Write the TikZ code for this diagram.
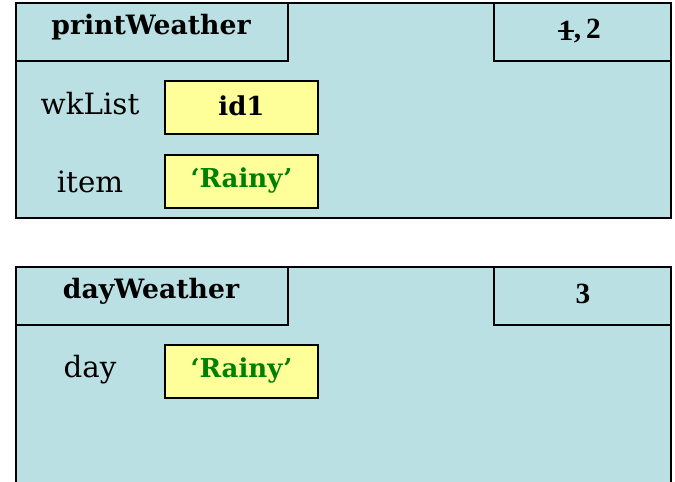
\documentclass[tikz,border=0pt]{standalone}
\usepackage{fontspec}
\setmainfont{DejaVu Serif}
\newfontfamily\numfont{Liberation Serif}
\usepackage{xcolor}
\usetikzlibrary{positioning}
\definecolor{framebg}{HTML}{BBE0E3}
\definecolor{valbg}{HTML}{FFFF99}
\definecolor{strgreen}{HTML}{008000}
\tikzstyle{frame} = [draw=black,line width=1.5pt,fill=framebg]
\tikzstyle{tab} = [draw=black,line width=1.2pt,fill=framebg]
\tikzstyle{valbox} = [draw=black,line width=1pt,fill=valbg]
\tikzstyle{varname} = [font=\fontsize{22}{26}\selectfont]
\tikzstyle{valtext} = [font=\fontsize{19.5}{24}\selectfont\bfseries]
\tikzstyle{fname} = [font=\fontsize{20}{24}\selectfont\bfseries]
\tikzstyle{linenum} = [font=\numfont\fontsize{22}{24}\selectfont\bfseries]

\begin{document}
\begin{tikzpicture}[x=0.75pt,y=-0.75pt]
  \useasboundingbox (0,0) rectangle (675,482);
  % call frame for printWeather
  \draw[frame] (16,3) rectangle (671,218);
  \draw[tab] (16,3) rectangle (288,61);
  \draw[tab] (494,3) rectangle (671,61);
  \node[fname] (fn1) at (151,27) {printWeather};
  \node[linenum,inner sep=0pt] (ln1a) at (566,31) {1};
  \node[linenum,inner sep=0pt,anchor=west] (ln1b) at (ln1a.east) {,\,2};
  \draw[line width=1.2pt] (ln1a.west) -- (ln1a.east);
  \draw[valbox] (165,81) rectangle (318,134);
  \draw[valbox] (165,155) rectangle (318,208);
  \node[varname] (wk) at (90,104) {wkList};
  \node[valtext] (wkv) at (241.5,106) {id1};
  \node[varname] (it) at (90,182) {item};
  \node[valtext,text=strgreen] (itv) at (241.5,181) {‘Rainy’};
  % call frame for dayWeather
  \draw[frame] (16,267) rectangle (671,500);
  \draw[tab] (16,267) rectangle (288,325);
  \draw[tab] (494,267) rectangle (671,325);
  \node[fname] (fn2) at (151,291) {dayWeather};
  \node[linenum] (ln2) at (583,294) {3};
  \draw[valbox] (165,345) rectangle (318,398);
  \node[varname] (dy) at (90,370) {day};
  \node[valtext,text=strgreen] (dyv) at (241.5,371) {‘Rainy’};
\end{tikzpicture}
\end{document}
